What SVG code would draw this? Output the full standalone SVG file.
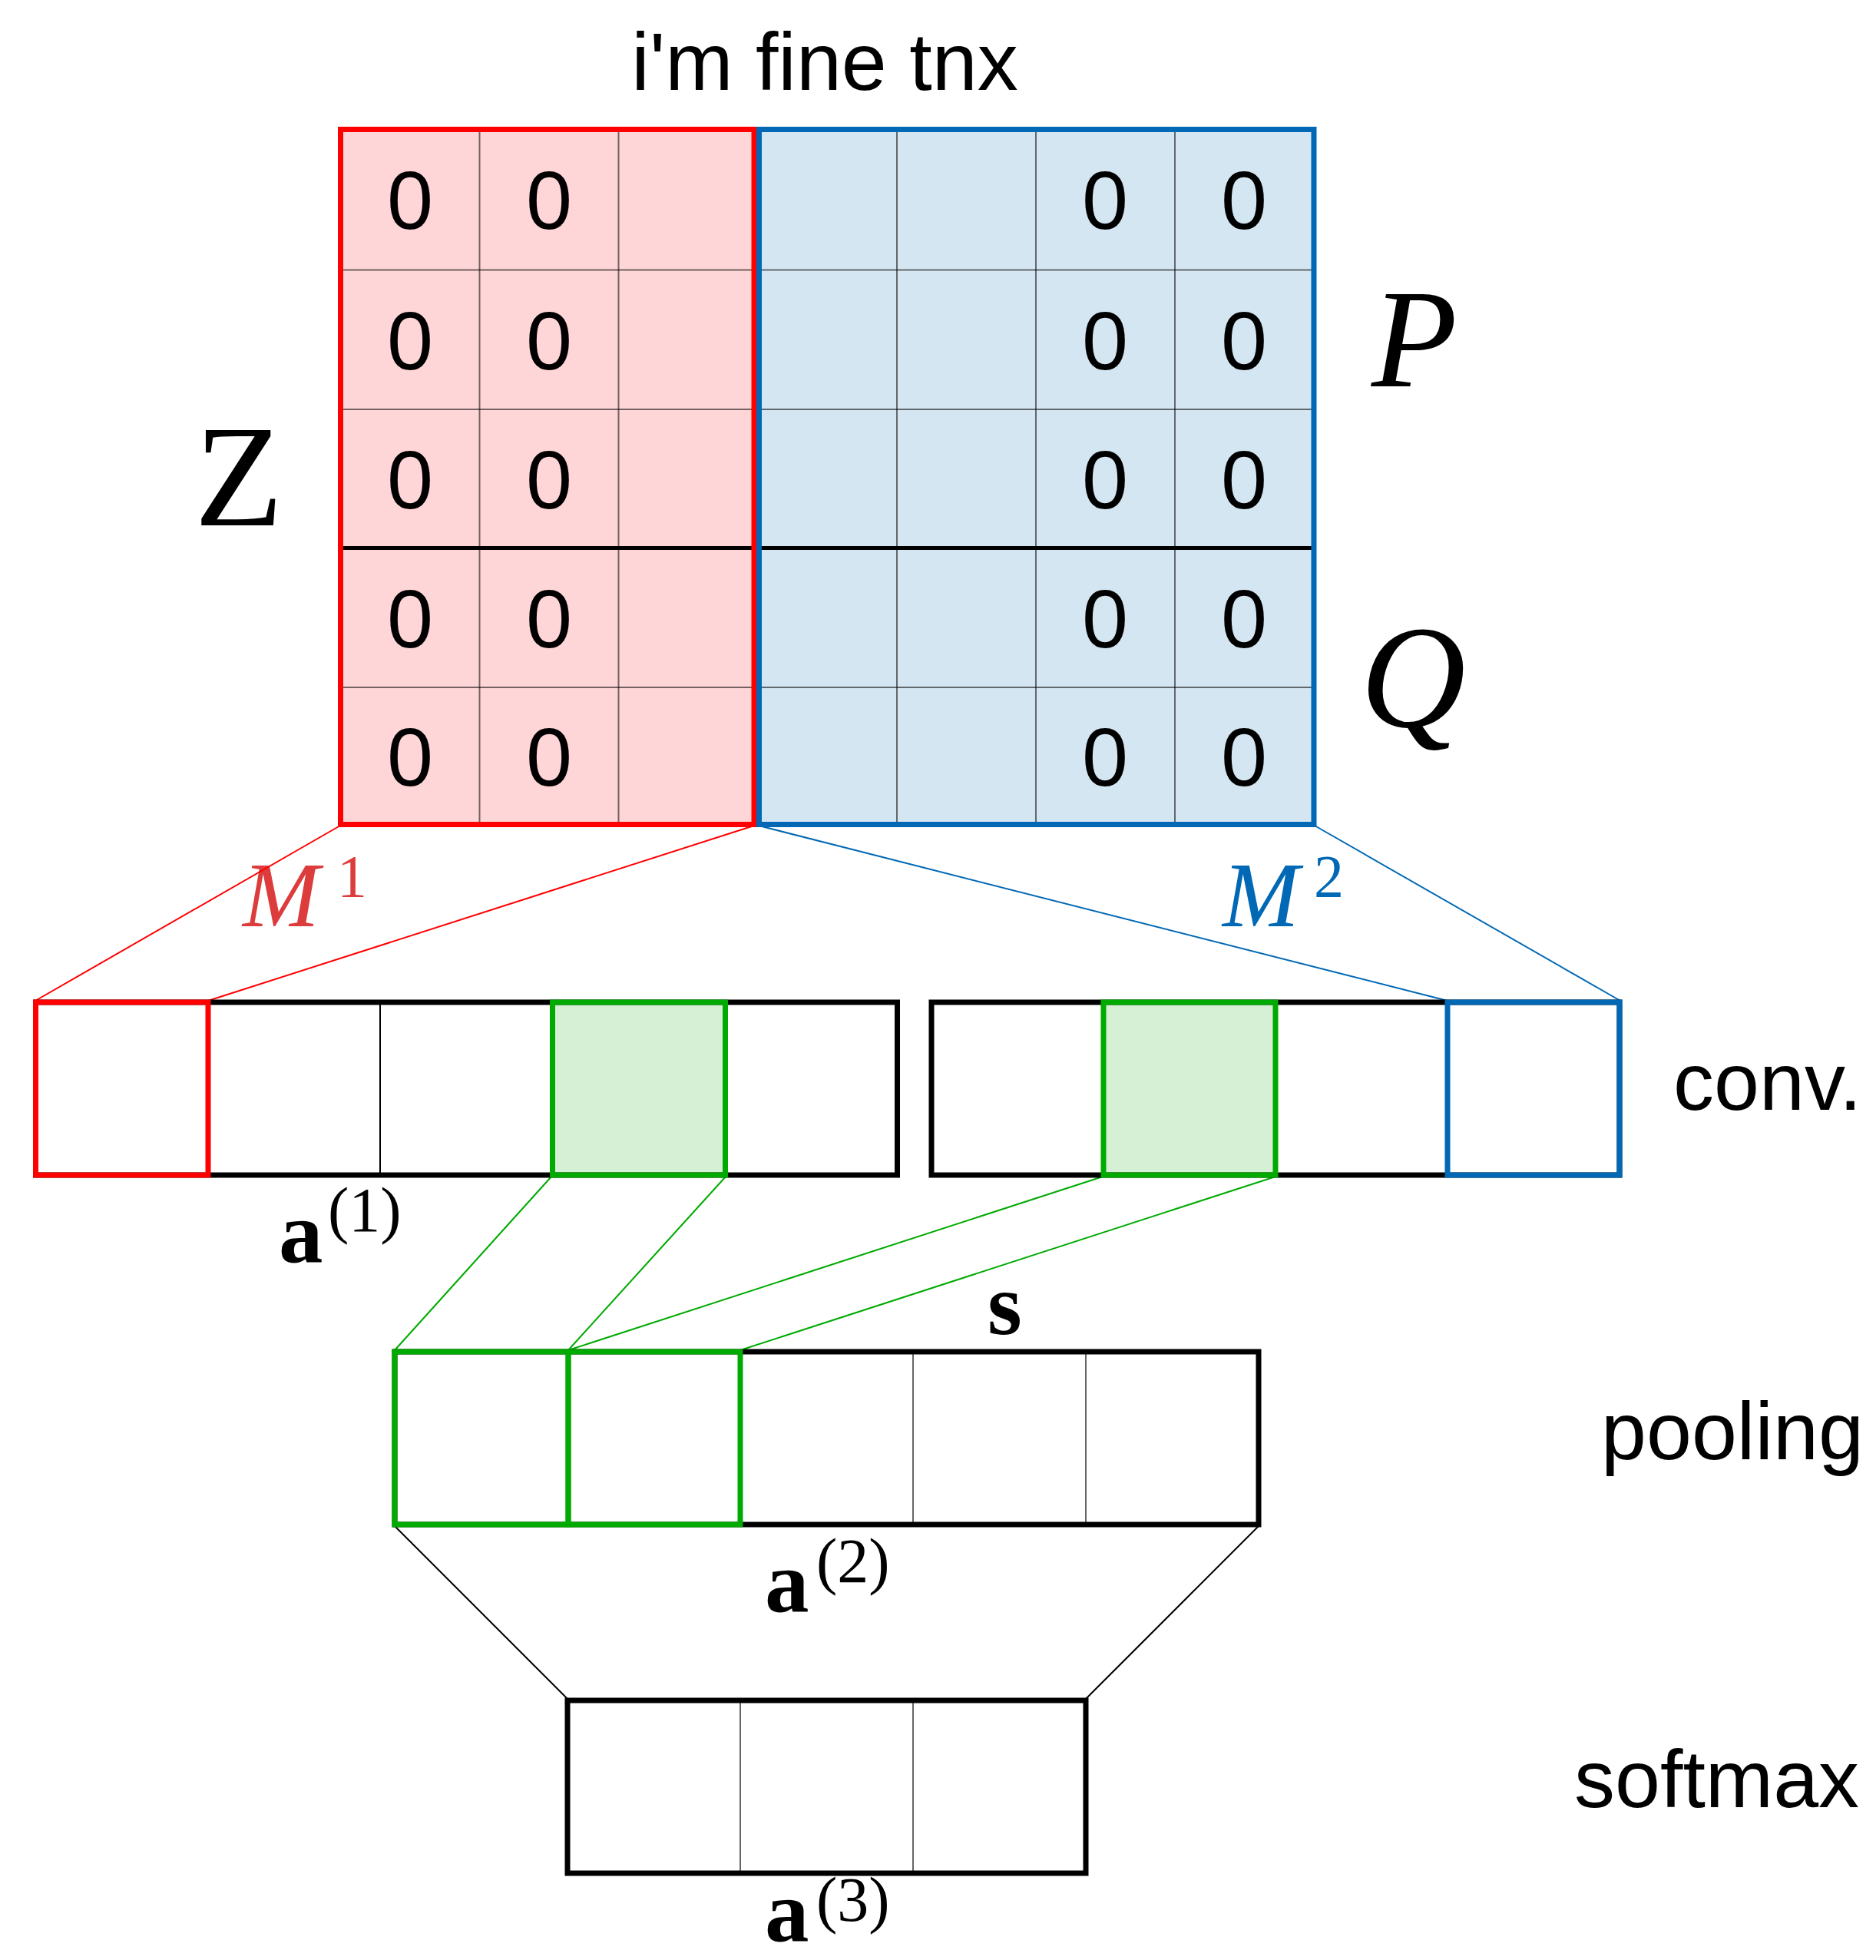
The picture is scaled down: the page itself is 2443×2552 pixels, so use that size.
<svg xmlns="http://www.w3.org/2000/svg" width="2443" height="2552" viewBox="0 0 2443 2552">
<style>
.sans{font-family:"Liberation Sans",Arial,sans-serif;fill:#000}
.lbl{font-size:106px}
.zero{font-size:108px;text-anchor:middle}
.serif{font-family:"Liberation Serif","Times New Roman",serif}
.it{font-style:italic}
.bm{font-family:"Liberation Serif","Times New Roman",serif;font-weight:bold;font-size:115px}
.sup{font-family:"Liberation Serif","Times New Roman",serif;font-size:82px}
.grid{stroke:#000;stroke-opacity:0.55;stroke-width:2;fill:none}
.thin{stroke-width:2;fill:none}
.box{stroke:#000;stroke-width:7;fill:none}
.cell{stroke:#000;stroke-opacity:0.6;stroke-width:2;fill:none}
</style>
<rect width="2443" height="2552" fill="#fff"/>

<g id="title"><text class="sans lbl" x="1074" y="117" text-anchor="middle" font-size="107">i'm fine tnx</text></g>

<g id="matrix">
<rect x="443" y="168" width="540" height="905" fill="#FFD6D7"/>
<rect x="988" y="168" width="723" height="905" fill="#D4E6F2"/>
<g class="grid">
<line x1="624.5" y1="168" x2="624.5" y2="1073"/>
<line x1="805.5" y1="168" x2="805.5" y2="1073"/>
<line x1="1168" y1="168" x2="1168" y2="1073"/>
<line x1="1349" y1="168" x2="1349" y2="1073"/>
<line x1="1530" y1="168" x2="1530" y2="1073"/>
<line x1="443" y1="351.5" x2="1711" y2="351.5"/>
<line x1="443" y1="533" x2="1711" y2="533"/>
<line x1="443" y1="895" x2="1711" y2="895"/>
</g>
<line x1="443" y1="713.5" x2="1711" y2="713.5" stroke="#000" stroke-width="5"/>
<rect x="443.5" y="168.5" width="538.5" height="905" fill="none" stroke="#FF0000" stroke-width="7"/>
<rect x="988.5" y="168.5" width="722.5" height="905" fill="none" stroke="#0068B4" stroke-width="7"/>
<g class="sans zero">
<text x="534" y="298">0</text><text x="715" y="298">0</text><text x="1439" y="298">0</text><text x="1620" y="298">0</text>
<text x="534" y="481">0</text><text x="715" y="481">0</text><text x="1439" y="481">0</text><text x="1620" y="481">0</text>
<text x="534" y="662">0</text><text x="715" y="662">0</text><text x="1439" y="662">0</text><text x="1620" y="662">0</text>
<text x="534" y="843">0</text><text x="715" y="843">0</text><text x="1439" y="843">0</text><text x="1620" y="843">0</text>
<text x="534" y="1023">0</text><text x="715" y="1023">0</text><text x="1439" y="1023">0</text><text x="1620" y="1023">0</text>
</g>
</g>

<g id="label-Z"><text class="serif" x="311" y="684" font-size="189" text-anchor="middle">Z</text></g>
<g id="label-P"><text class="serif it" x="1842" y="503" font-size="183" text-anchor="middle">P</text></g>
<g id="label-Q"><text class="serif it" x="1840" y="946" font-size="190" text-anchor="middle">Q</text></g>
<g id="label-M1" fill="#DD3C3C"><text class="serif it" x="316" y="1206" font-size="120">M</text><text class="serif" x="439" y="1167" font-size="78">1</text></g>
<g id="label-M2" fill="#0068B4"><text class="serif it" x="1592" y="1206" font-size="120">M</text><text class="serif" x="1711" y="1167" font-size="78">2</text></g>

<g id="connectors" class="thin">
<line x1="443" y1="1075" x2="46" y2="1303" stroke="#FF0000"/>
<line x1="982" y1="1075" x2="271" y2="1303" stroke="#FF0000"/>
<line x1="988" y1="1075" x2="1885" y2="1303" stroke="#0068B4"/>
<line x1="1712" y1="1075" x2="2110" y2="1303" stroke="#0068B4"/>
<line x1="718" y1="1532" x2="514" y2="1758" stroke="#00AA00"/>
<line x1="945" y1="1532" x2="740" y2="1758" stroke="#00AA00"/>
<line x1="1436" y1="1532" x2="740" y2="1758" stroke="#00AA00"/>
<line x1="1661" y1="1532" x2="964" y2="1758" stroke="#00AA00"/>
<line x1="514" y1="1987" x2="739" y2="2212" stroke="#000"/>
<line x1="1639" y1="1987" x2="1414" y2="2212" stroke="#000"/>
</g>

<g id="conv1">
<rect x="719.5" y="1305" width="225" height="225" fill="#D5F0D5"/>
<rect x="46.5" y="1305" width="1122" height="225" class="box"/>
<line x1="495" y1="1305" x2="495" y2="1530" stroke="#000" stroke-width="2"/>
<rect x="46.5" y="1305" width="224.5" height="225" fill="none" stroke="#FF0000" stroke-width="7"/>
<rect x="719.5" y="1305" width="225" height="225" fill="none" stroke="#00AA00" stroke-width="7"/>
<text class="bm" x="363" y="1643">a</text><text class="sup" x="427" y="1603">(1)</text>
</g>

<g id="conv2">
<rect x="1437" y="1305" width="224" height="225" fill="#D5F0D5"/>
<rect x="1213" y="1305" width="896" height="225" class="box"/>
<rect x="1437" y="1305" width="224" height="225" fill="none" stroke="#00AA00" stroke-width="7"/>
<rect x="1885" y="1305" width="224" height="225" fill="none" stroke="#0068B4" stroke-width="7"/>
</g>
<g id="label-conv"><text class="sans lbl" x="2179" y="1445">conv.</text></g>

<g id="pool">
<text class="bm" x="1286" y="1737" font-size="110">s</text>
<rect x="514" y="1760" width="1125" height="225" class="box"/>
<line x1="1189" y1="1760" x2="1189" y2="1985" class="cell"/>
<line x1="1414" y1="1760" x2="1414" y2="1985" class="cell"/>
<rect x="514" y="1760" width="226" height="225" fill="none" stroke="#00AA00" stroke-width="7"/>
<rect x="740" y="1760" width="224" height="225" fill="none" stroke="#00AA00" stroke-width="7"/>
<text class="bm" x="996" y="2098">a</text><text class="sup" x="1063" y="2060">(2)</text>
</g>
<g id="label-pooling"><text class="sans lbl" x="2085" y="1900">pooling</text></g>

<g id="softmax">
<rect x="739" y="2214" width="675" height="225" class="box"/>
<line x1="964" y1="2214" x2="964" y2="2439" class="cell"/>
<line x1="1189" y1="2214" x2="1189" y2="2439" class="cell"/>
<text class="bm" x="996" y="2527">a</text><text class="sup" x="1063" y="2501">(3)</text>
</g>
<g id="label-softmax"><text class="sans lbl" x="2050" y="2353">softmax</text></g>
</svg>
